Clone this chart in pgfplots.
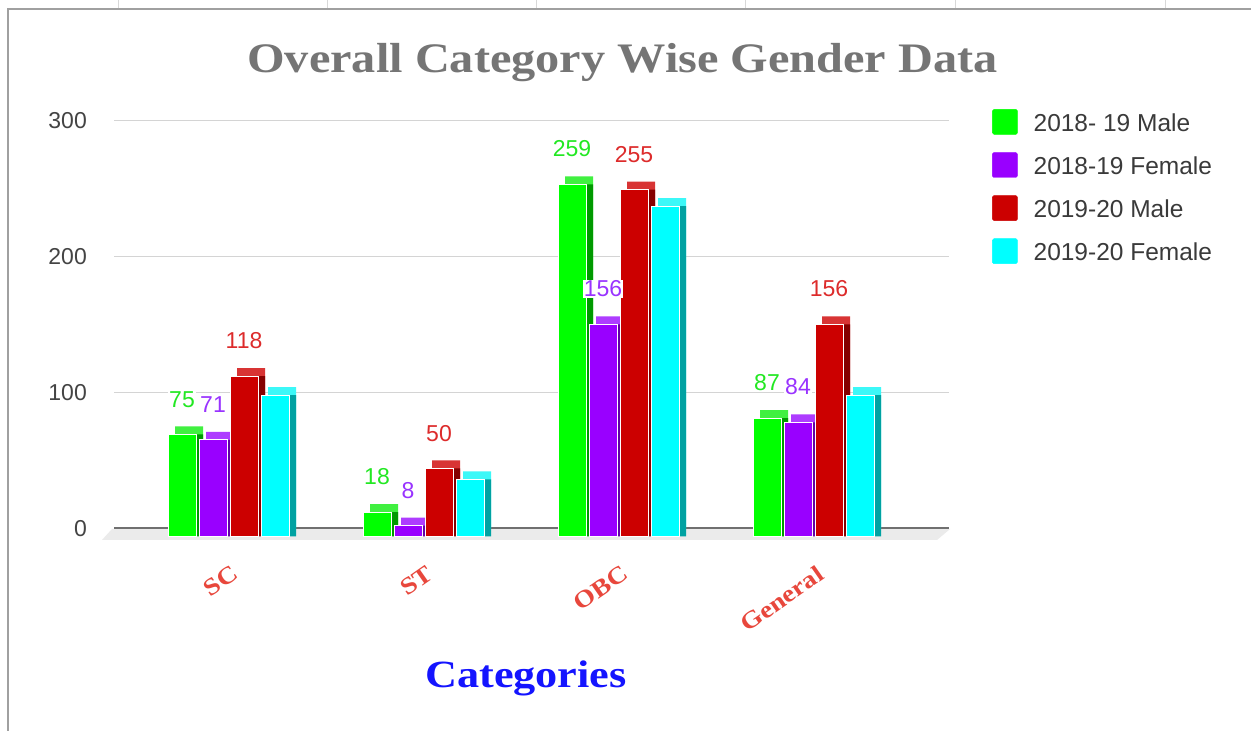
\documentclass[border=0pt]{standalone}
\usepackage{pgfplots}
\pgfplotsset{compat=1.18}
\usepackage{pgfplotstable}
\usepackage{fontspec}
\setmainfont{Liberation Sans}
\newfontfamily\gfont{Liberation Serif}[FakeStretch=1.15]

\definecolor{cg}{HTML}{00FF00}
\definecolor{cgT}{HTML}{40F040}
\definecolor{cgS}{HTML}{009A00}
\definecolor{cp}{HTML}{9900FF}
\definecolor{cpT}{HTML}{AE3CFF}
\definecolor{cpS}{HTML}{6200A8}
\definecolor{cr}{HTML}{CC0000}
\definecolor{crT}{HTML}{D83434}
\definecolor{crS}{HTML}{850000}
\definecolor{cc}{HTML}{00FFFF}
\definecolor{ccT}{HTML}{3CF8F8}
\definecolor{ccS}{HTML}{00A2A2}
\definecolor{lg}{HTML}{22E822}
\definecolor{lp}{HTML}{9933FF}
\definecolor{lr}{HTML}{DD2B2B}
\definecolor{gridc}{HTML}{D4D4D4}
\definecolor{zeroc}{HTML}{707070}
\definecolor{floorc}{HTML}{EBEBEB}
\definecolor{tickc}{HTML}{444444}
\definecolor{legc}{HTML}{3A3A3A}
\definecolor{titlec}{HTML}{757575}
\definecolor{catc}{HTML}{E8473C}
\definecolor{axtc}{HTML}{1414FF}
\definecolor{framec}{HTML}{A0A0A0}
\definecolor{framet}{HTML}{D8D8D8}

\pgfplotstableread{
x m18 f18 m19 f19
0 75 71 118 104
1 18 8 50 42
2 259 156 255 243
3 87 84 156 104
}\catdata

\pgfplotsset{
  /pgf/number format/assume math mode=true,
  geo/.style={scale only axis, width=835pt, height=408pt,
    xmin=-0.6231, xmax=3.659, ymin=0, ymax=300, clip=false,
    axis lines*=left, axis line style={draw=none},
    major tick length=0pt, anchor=south west},
  mybar/.style={ybar, bar width=28pt, bar shift=#1},
  lab/.style 2 args={every node near coord/.append style={text=#1,
    font=\fontsize{23}{23}\selectfont, fill=white, inner sep=1pt,
    anchor=south, xshift=#2, yshift=26pt}},
  limg/.style={legend image code/.code={\fill[#1, rounded corners=1.5pt] (0pt,-11pt) rectangle (25pt,14pt); \path (41pt,0pt);}},
}

\begin{document}
\begin{tikzpicture}
\useasboundingbox (0,0) rectangle (1251pt,731pt);
\fill[white] (0,0) rectangle (1251pt,731pt);
% spreadsheet frame
\foreach \xx in {118,327,536,745,955,1165}{
  \draw[framet, line width=1pt] (\xx pt,722pt) -- (\xx pt,731pt);}
\draw[framec, line width=1.5pt] (8pt,0pt) -- (8pt,722pt) -- (1251pt,722pt);
% floor
\fill[floorc] (102pt,191pt) -- (937pt,191pt) -- (950pt,202pt) -- (112pt,202pt) -- cycle;

% back faces (top colour), grid, y ticks
\begin{axis}[geo, at={(114pt,202.5pt)},
  ytick={0,100,200,300}, xtick=\empty,
  ymajorgrids, grid style={color=gridc, line width=1pt},
  extra y ticks={0}, extra y tick labels={},
  extra y tick style={grid style={color=zeroc, line width=2pt}},
  yticklabel style={font=\fontsize{23}{23}\selectfont, text=tickc,
    inner sep=0pt, anchor=east, xshift=-27pt}]
\addplot[mybar=-46.5pt, fill=cgT, draw=none] table[x=x,y=m18]{\catdata};
\addplot[mybar=-15.5pt, fill=cpT, draw=none] table[x=x,y=f18]{\catdata};
\addplot[mybar=15.5pt, fill=crT, draw=none] table[x=x,y=m19]{\catdata};
\addplot[mybar=46.5pt, fill=ccT, draw=none] table[x=x,y=f19]{\catdata};
\end{axis}

% side faces
\begin{axis}[geo, at={(114pt,194.5pt)}, hide axis]
\addplot[mybar=-46.5pt, fill=cgS, draw=none] table[x=x,y=m18]{\catdata};
\addplot[mybar=-15.5pt, fill=cpS, draw=none] table[x=x,y=f18]{\catdata};
\addplot[mybar=15.5pt, fill=crS, draw=none] table[x=x,y=m19]{\catdata};
\addplot[mybar=46.5pt, fill=ccS, draw=none] table[x=x,y=f19]{\catdata};
\end{axis}

% front faces and category labels
\begin{axis}[geo, at={(107pt,194.5pt)}, ytick=\empty,
  xtick={0,1,2,3}, xticklabels={SC,ST,OBC,General},
  xticklabel style={font=\gfont\bfseries\fontsize{24}{24}\selectfont,
    text=catc, rotate=35, anchor=north east, inner sep=0pt,
    xshift=-14pt, yshift=-24pt}]
\addplot[mybar=-46.5pt, fill=cg, draw=white, line width=1pt] table[x=x,y=m18]{\catdata};
\addplot[mybar=-15.5pt, fill=cp, draw=white, line width=1pt] table[x=x,y=f18]{\catdata};
\addplot[mybar=15.5pt, fill=cr, draw=white, line width=1pt] table[x=x,y=m19]{\catdata};
\addplot[mybar=46.5pt, fill=cc, draw=white, line width=1pt] table[x=x,y=f19]{\catdata};
\end{axis}

% value labels and legend
\begin{axis}[geo, at={(107pt,194.5pt)}, hide axis,
  legend cell align=left,
  legend style={at={(1.0599,1.0478)}, anchor=north west, draw=none,
    fill=none, inner sep=0pt, row sep=17.7pt,
    font=\fontsize{24.5}{24.5}\selectfont, text=legc, nodes={inner sep=0pt}}]
\addlegendimage{limg=cg}
\addlegendentry{2018- 19 Male}
\addlegendimage{limg=cp}
\addlegendentry{2018-19 Female}
\addlegendimage{limg=cr}
\addlegendentry{2019-20 Male}
\addlegendimage{limg=cc}
\addlegendentry{2019-20 Female}
\addplot[mybar=-46.5pt, draw=none, fill=none, forget plot, nodes near coords, lab={lg}{-46.5pt}] table[x=x,y=m18]{\catdata};
\addplot[mybar=-15.5pt, draw=none, fill=none, forget plot, nodes near coords, lab={lp}{-15.5pt}] table[x=x,y=f18]{\catdata};
\addplot[mybar=15.5pt, draw=none, fill=none, forget plot, nodes near coords, lab={lr}{15.5pt}] table[x=x,y=m19]{\catdata};
\end{axis}

\node[anchor=base, text=titlec, font=\gfont\bfseries\fontsize{42}{42}\selectfont]
  at (622.5pt,658pt) {Overall Category Wise Gender Data};
\node[anchor=base, text=axtc, font=\gfont\bfseries\fontsize{38.5}{38.5}\selectfont]
  at (526pt,43pt) {Categories};
\end{tikzpicture}
\end{document}
